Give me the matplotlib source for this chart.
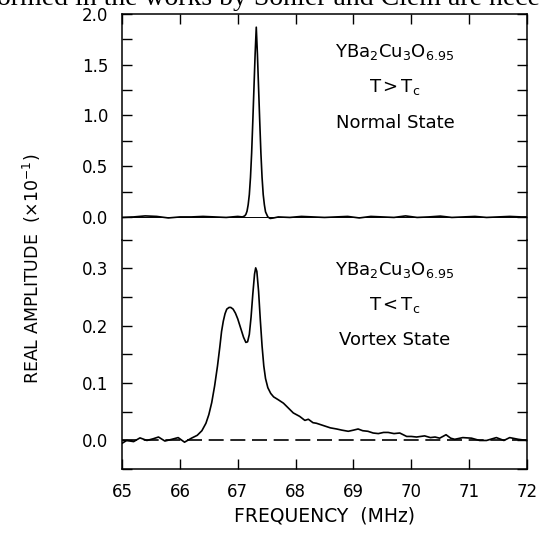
import numpy as np
import matplotlib
matplotlib.use("Agg")
import matplotlib.pyplot as plt
from matplotlib.ticker import MultipleLocator

# Normal state (T > Tc) spectrum (x in MHz, y in units of 1e-1)
freq_normal = [65.0, 65.2, 65.4, 65.6, 65.8, 66.0, 66.2, 66.4, 66.6, 66.8, 67.0,
               67.08, 67.12, 67.14, 67.16, 67.18, 67.20, 67.22, 67.24, 67.26, 67.28,
               67.30, 67.32, 67.34, 67.36, 67.38, 67.40, 67.42, 67.44, 67.46, 67.48,
               67.52, 67.56, 67.62, 67.7, 67.9, 68.1, 68.3, 68.5, 68.7, 68.9, 69.1,
               69.3, 69.5, 69.7, 69.9, 70.1, 70.3, 70.5, 70.7, 70.9, 71.1, 71.3,
               71.5, 71.7, 71.9, 72.0]
amp_normal = [-0.005, 0.0, 0.01, 0.005, -0.01, 0.0, 0.0, 0.005, 0.0, -0.005, 0.005,
              0.0, 0.01, 0.025, 0.056, 0.12, 0.22, 0.39, 0.63, 0.94, 1.27,
              1.60, 1.87, 1.60, 1.27, 0.94, 0.63, 0.39, 0.22, 0.12, 0.05,
              0.0, -0.015, -0.01, 0.0, -0.005, 0.005, 0.0, -0.005, 0.0, 0.005, -0.01,
              0.005, 0.0, -0.005, 0.01, -0.005, 0.0, 0.008, -0.005, 0.0, 0.005, -0.005,
              0.0, 0.005, 0.0, 0.0]

# Vortex state (T < Tc) spectrum
freq_vortex = [65.0, 65.08, 65.2, 65.31, 65.43, 65.54, 65.63, 65.74, 65.86, 65.97,
               66.08, 66.2, 66.3, 66.38, 66.45, 66.5, 66.55, 66.6, 66.65, 66.69,
               66.72, 66.75, 66.78, 66.81, 66.85, 66.88, 66.92, 66.96, 67.0, 67.05,
               67.1, 67.14, 67.17, 67.2, 67.23, 67.26, 67.29, 67.31, 67.33, 67.36,
               67.39, 67.42, 67.45, 67.48, 67.52, 67.57, 67.62, 67.7, 67.79, 67.88,
               67.96, 68.07, 68.16, 68.22, 68.3, 68.36, 68.48, 68.6, 68.71, 68.8,
               68.91, 69.0, 69.08, 69.16, 69.25, 69.34, 69.43, 69.52, 69.6, 69.7,
               69.8, 69.92, 70.0, 70.09, 70.23, 70.33, 70.41, 70.49, 70.6, 70.68,
               70.75, 70.89, 71.04, 71.18, 71.3, 71.47, 71.6, 71.7, 71.85, 72.0]
amp_vortex = [-0.005, 0.0, -0.002, 0.0045, 0.0, 0.003, 0.006, -0.001, 0.002, 0.005,
              -0.003, 0.004, 0.009, 0.017, 0.030, 0.045, 0.066, 0.095, 0.130, 0.163,
              0.190, 0.208, 0.221, 0.229, 0.232, 0.232, 0.229, 0.222, 0.212, 0.196,
              0.180, 0.171, 0.172, 0.185, 0.215, 0.255, 0.290, 0.301, 0.295, 0.260,
              0.210, 0.165, 0.130, 0.108, 0.092, 0.082, 0.076, 0.071, 0.065, 0.056,
              0.048, 0.042, 0.035, 0.037, 0.031, 0.030, 0.026, 0.022, 0.020, 0.018,
              0.016, 0.018, 0.020, 0.017, 0.016, 0.013, 0.012, 0.014, 0.014, 0.012,
              0.013, 0.007, 0.007, 0.006, 0.008, 0.005, 0.006, 0.004, 0.010, 0.004,
              0.002, 0.005, 0.004, 0.0, 0.0, 0.005, 0.0, 0.005, 0.002, 0.0]

x_ticks = [65, 66, 67, 68, 69, 70, 71, 72]

fig = plt.figure(figsize=(5.4, 5.38), dpi=100)
gs = fig.add_gridspec(2, 1, left=0.226, right=0.976, top=0.974, bottom=0.128,
                      hspace=0, height_ratios=[225.7, 229.3])
ax_top = fig.add_subplot(gs[0])
ax_bot = fig.add_subplot(gs[1], sharex=ax_top)

# Top panel
ax_top.plot(freq_normal, amp_normal, color='black', lw=1.2)
ax_top.axhline(0, color='black', lw=0.7)
ax_top.set_ylim(-0.225, 2.0)
ax_top.yaxis.set_major_locator(MultipleLocator(0.5))
ax_top.yaxis.set_minor_locator(MultipleLocator(0.25))
ax_top.spines['bottom'].set_visible(False)
ax_top.tick_params(axis='x', which='both', bottom=False, top=True, labelbottom=False,
                   direction='in', length=7, width=1)
ax_top.text(0.674, 0.832, r'YBa$_2$Cu$_3$O$_{6.95}$', transform=ax_top.transAxes,
            ha='center', va='center', fontsize=13)
ax_top.text(0.674, 0.677, r'T$\,$>$\,$T$_{\rm c}$', transform=ax_top.transAxes,
            ha='center', va='center', fontsize=13)
ax_top.text(0.674, 0.517, 'Normal State', transform=ax_top.transAxes,
            ha='center', va='center', fontsize=13)

# Bottom panel
ax_bot.plot(freq_vortex, amp_vortex, color='black', lw=1.2)
ax_bot.axhline(0, color='black', lw=1.2, dashes=(9, 4))
ax_bot.set_ylim(-0.05, 0.35)
ax_bot.yaxis.set_major_locator(MultipleLocator(0.1))
ax_bot.yaxis.set_minor_locator(MultipleLocator(0.05))
ax_bot.spines['top'].set_visible(False)
ax_bot.tick_params(axis='x', which='both', top=False, bottom=True,
                   direction='in', length=7, width=1, pad=10, labelsize=12)
ax_bot.text(0.674, 0.868, r'YBa$_2$Cu$_3$O$_{6.95}$', transform=ax_bot.transAxes,
            ha='center', va='center', fontsize=13)
ax_bot.text(0.674, 0.715, r'T$\,$<$\,$T$_{\rm c}$', transform=ax_bot.transAxes,
            ha='center', va='center', fontsize=13)
ax_bot.text(0.674, 0.562, 'Vortex State', transform=ax_bot.transAxes,
            ha='center', va='center', fontsize=13)

ax_bot.set_xlim(65, 72)
ax_bot.set_xticks(x_ticks)
ax_bot.set_xlabel('FREQUENCY  (MHz)', fontsize=13.5, labelpad=4)

for ax in (ax_top, ax_bot):
    ax.tick_params(axis='y', which='both', left=True, right=True, direction='in',
                   length=7, width=1, pad=10, labelsize=12)
    ax.yaxis.set_major_formatter(plt.FormatStrFormatter('%.1f'))
    for s in ax.spines.values():
        s.set_linewidth(1.1)

fig.text(0.06, 0.5, r'REAL AMPLITUDE  ($\times$10$^{-1}$)', rotation=90,
         ha='center', va='center', fontsize=12.5)

# fragment of the page text cut off at the top of the scan
fig.text(-0.005, 1 - 5 / 538, 'ormed in the works by Sonier and Clem are nece',
         ha='left', va='baseline', fontsize=20, family='Liberation Serif')

fig.savefig('out.png', dpi=100)
